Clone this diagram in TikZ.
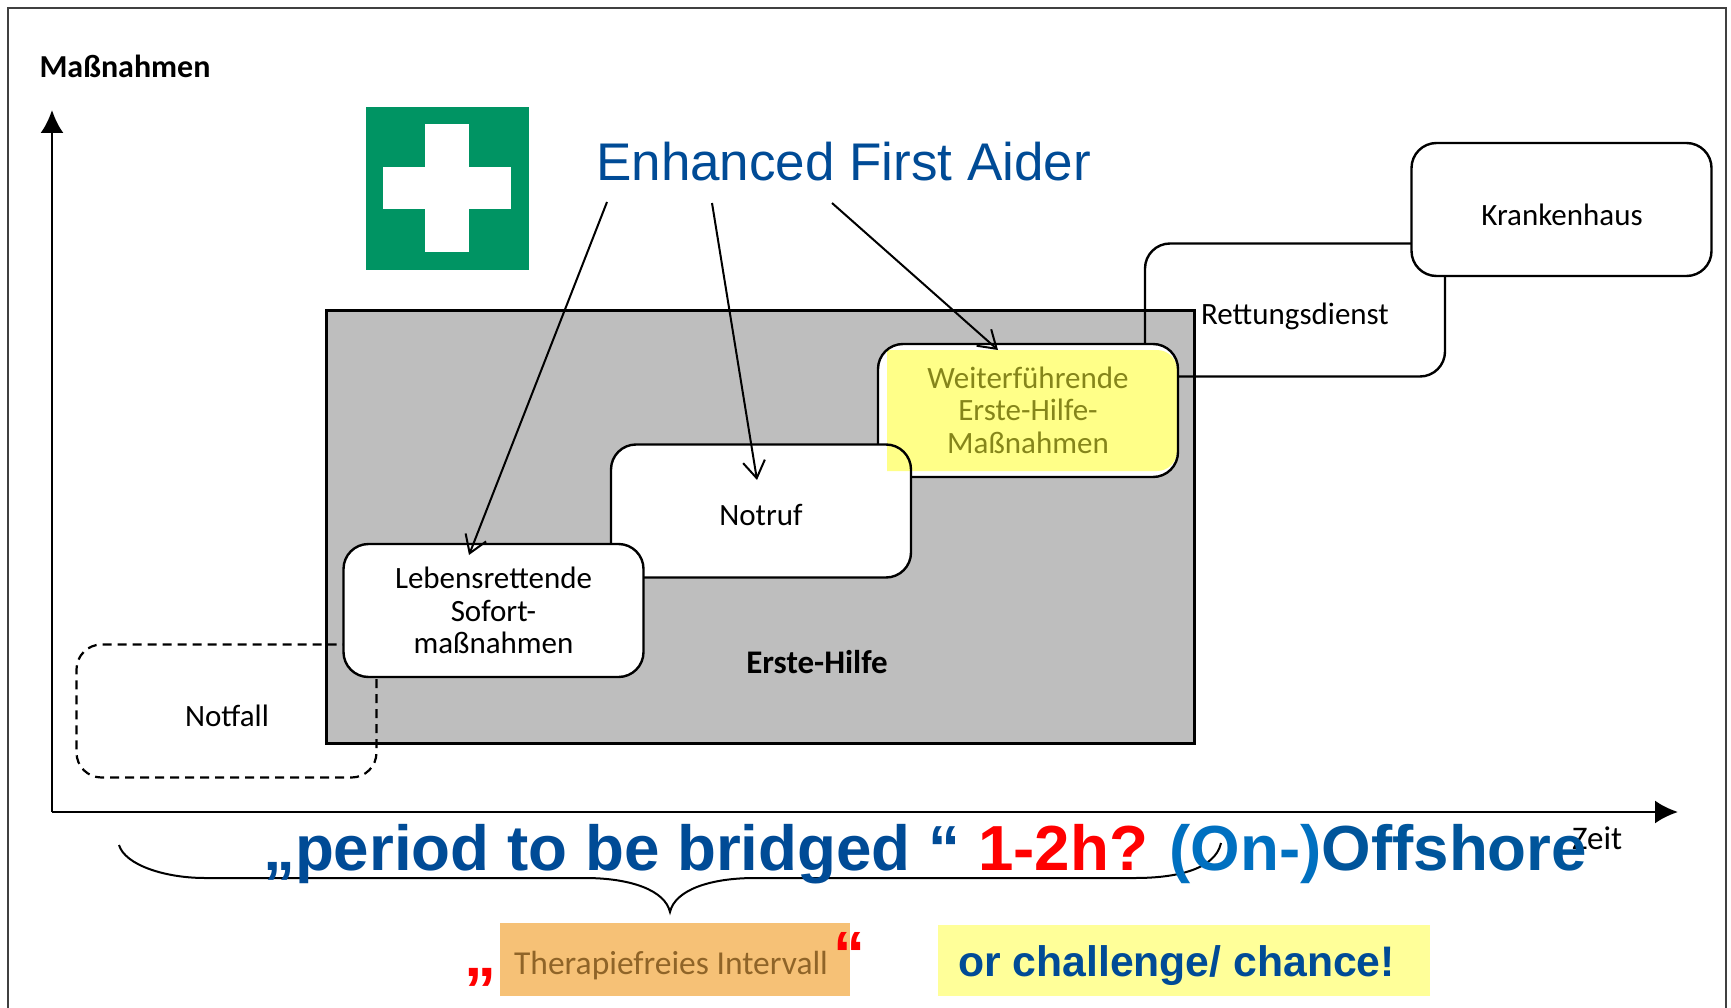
\documentclass[tikz,border=0pt]{standalone}
\usepackage{fontspec}
\setmainfont{Carlito}
\newfontfamily\blue{Liberation Sans}
\usetikzlibrary{arrows.meta}
\definecolor{bluetxt}{HTML}{004B96}
\definecolor{onblue}{HTML}{0070C0}
\definecolor{offblue}{HTML}{00559B}
\definecolor{greenbg}{HTML}{009463}
\definecolor{graybg}{HTML}{BEBEBE}
\definecolor{hlyellow}{HTML}{FFFF88}
\definecolor{olivetxt}{HTML}{85851A}
\definecolor{orangebg}{HTML}{F6C176}
\definecolor{browntxt}{HTML}{8F6428}
\definecolor{paleyellow}{HTML}{FFFF99}
\tikzset{
  x=1pt,y=-1pt,
  stepbox/.style={draw=black,line width=2.4pt,fill=white,rounded corners=25pt,minimum width=300pt,minimum height=133pt,inner sep=0pt,align=center,font=\fontsize{31}{32.5}\selectfont,text=black},
  openbox/.style={stepbox,fill=none},
  dashbox/.style={stepbox,fill=none,dash pattern=on 9pt off 6pt,line width=2.2pt},
  lbl/.style={inner sep=0pt,font=\fontsize{31}{32.5}\selectfont,text=black},
  lblbold/.style={lbl,font=\fontsize{33}{33}\bfseries\selectfont},
  axis/.style={line width=2.6pt,-{Latex[length=23pt,width=23pt]}},
  pointer/.style={line width=2pt,-{Straight Barb[length=17pt,width=22pt,line width=2pt]}},
  big/.style={inner sep=0pt,anchor=base west,font=\blue\fontsize{63.7}{64}\bfseries\selectfont,text=bluetxt},
}
\begin{document}
\begin{tikzpicture}
\useasboundingbox (0,0) rectangle (1731,1008);
\fill[white] (0,0) rectangle (1731,1008);
% frame
\draw[line width=1.6pt,black!75] (8,1008) -- (8,8) -- (1726,8) -- (1726,1008);
% first aid sign
\fill[greenbg] (366,107) rectangle (529,270);
\fill[white] (425,124) rectangle (469,252);
\fill[white] (383,167) rectangle (511,209);
% grey field
\node[draw=black,fill=graybg,line width=3pt,minimum width=868pt,minimum height=433pt,inner sep=0pt] (field) at (760,526.5) {};
% boxes
\node[dashbox] (notfall) at (226.5,711) {};
\node[lbl] (notfalltxt) at (227,716) {Notfall};
\node[openbox] (rett) at (1295,310) {};
\node[lbl] (retttxt) at (1295,316) {Rettungsdienst};
\node[stepbox] (kh) at (1561.5,209.5) {};
\node[lbl] (khtxt) at (1562,215) {Krankenhaus};
\node[stepbox] (weiter) at (1028,410.5) {};
\node[stepbox] (notruf) at (761,511) {};
\node[lbl] (notruftxt) at (761,515) {Notruf};
\node[stepbox] (leben) at (493.5,610.5) {Lebensrettende\\Sofort-\\maßnahmen};
% highlight
\begin{scope}[blend mode=multiply]
\fill[hlyellow,rounded corners=0pt] (887,350) -- (1157,350) to[out=0,in=90] (1177,370) -- (1177,451) to[out=-90,in=0] (1157,471) -- (887,471) -- cycle;
\end{scope}
\node[lbl,align=center,text=olivetxt] (weitertxt) at (1028,410) {Weiterführende\\Erste-Hilfe-\\Maßnahmen};
% other labels
\node[lbl,font=\fontsize{32}{32}\selectfont\bfseries] (mass) at (125,66) {Maßnahmen};
\node[lblbold] (erste) at (817,662) {Erste-Hilfe};
\node[lbl,font=\fontsize{33}{33}\selectfont,anchor=base west] (zeit) at (1572,849) {Zeit};
% axes
\coordinate (origin) at (52,812);
\coordinate (ytip) at (52,110);
\coordinate (xtip) at (1678,812);
\draw[axis] (origin) -- (ytip);
\draw[axis] (origin) -- (xtip);
% brace
\draw[line width=2pt] (119,845) .. controls (125,865) and (165,878) .. (205,878) -- (585,878) .. controls (630,878) and (665,890) .. (670,912) .. controls (675,890) and (710,878) .. (755,878) -- (1135,878) .. controls (1175,878) and (1215,870) .. (1221,843);
% enhanced first aider
\node[inner sep=0pt,anchor=base west,font=\blue\fontsize{53}{53}\selectfont,text=bluetxt] (efa) at (596,181) {Enhanced First Aider};
\coordinate (a1s) at (607,202);
\coordinate (a1e) at (469,555);
\coordinate (a2s) at (712,203);
\coordinate (a2e) at (757,480);
\coordinate (a3s) at (832,203);
\coordinate (a3e) at (998,350);
\draw[pointer] (a1s) -- (a1e);
\draw[pointer] (a2s) -- (a2e);
\draw[pointer] (a3s) -- (a3e);
% title
\node[big] (title) at (263,870) {„period to be bridged “ \textcolor{red}{1-2h?}\hspace{-2pt} \textcolor{onblue}{(On-)}\textcolor{offblue}{Offshore}};
% bottom boxes
\node[fill=orangebg,minimum width=350pt,minimum height=73pt,inner sep=0pt] (thera) at (675,959.5) {};
\node[inner sep=0pt,font=\fontsize{33.5}{34}\selectfont,text=browntxt] (theratxt) at (671,966) {Therapiefreies Intervall};
\node[inner sep=0pt,anchor=base west,font=\blue\fontsize{64}{64}\bfseries\selectfont,text=red] (q1) at (464,976) {„};
\node[inner sep=0pt,anchor=base west,font=\blue\fontsize{64}{64}\bfseries\selectfont,text=red] (q2) at (833,976) {“};
\node[fill=paleyellow,minimum width=492pt,minimum height=71pt,inner sep=0pt] (chance) at (1184,960.5) {};
\node[inner sep=0pt,anchor=base west,font=\blue\fontsize{42.7}{43}\bfseries\selectfont,text=bluetxt] (chancetxt) at (958,976) {or challenge/ chance!};
\end{tikzpicture}
\end{document}
